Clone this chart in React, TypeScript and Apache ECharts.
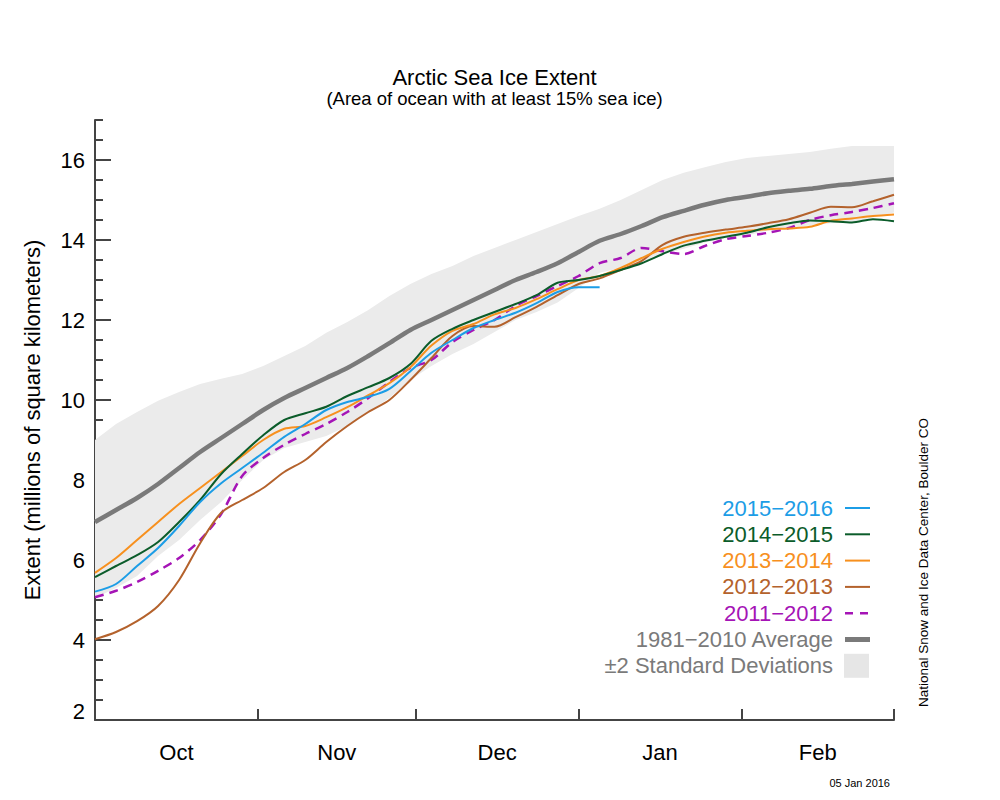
import React, { useEffect, useRef } from "react";
import * as echarts from "echarts";

// Day index: 0 = Oct 1, 152 = Mar 1 (2016 leap year)
const DAYS = [0, 4, 8, 12, 16, 20, 24, 28, 32, 36, 40, 44, 48, 52, 56, 60, 64, 68, 72, 76, 80, 84, 88, 92, 96, 100, 104, 108, 112, 116, 120, 124, 128, 132, 136, 140, 144, 148, 152];

const AVG_1981_2010 = [6.95, 7.25, 7.55, 7.9, 8.3, 8.7, 9.05, 9.4, 9.75, 10.05, 10.3, 10.55, 10.8, 11.1, 11.42, 11.75, 12.0, 12.25, 12.5, 12.75, 13.0, 13.2, 13.42, 13.7, 13.98, 14.15, 14.35, 14.57, 14.73, 14.88, 15.0, 15.08, 15.17, 15.23, 15.28, 15.35, 15.4, 15.46, 15.52];
const SD_UPPER = [9.0, 9.4, 9.7, 9.98, 10.2, 10.4, 10.53, 10.65, 10.85, 11.1, 11.35, 11.68, 11.95, 12.25, 12.6, 12.9, 13.15, 13.35, 13.6, 13.8, 14.0, 14.2, 14.4, 14.6, 14.78, 15.0, 15.25, 15.5, 15.68, 15.82, 15.95, 16.05, 16.1, 16.15, 16.2, 16.28, 16.35, 16.35, 16.35];
const SD_LOWER = [5.05, 5.3, 5.6, 6.1, 6.5, 7.0, 7.45, 8.0, 8.5, 8.8, 8.95, 9.1, 9.35, 9.7, 10.05, 10.5, 10.85, 11.15, 11.4, 11.7, 12.0, 12.2, 12.44, 12.8, 13.18, 13.3, 13.45, 13.64, 13.78, 13.94, 14.05, 14.11, 14.24, 14.31, 14.36, 14.42, 14.45, 14.57, 14.69];

const Y2015_2016 = [5.21, 5.4, 5.85, 6.3, 6.85, 7.45, 7.92, 8.3, 8.68, 9.08, 9.4, 9.75, 9.95, 10.08, 10.28, 10.72, 11.18, 11.5, 11.8, 12.0, 12.18, 12.42, 12.7, 12.82, 12.82];
const Y2014_2015 = [5.57, 5.85, 6.12, 6.45, 6.95, 7.5, 8.15, 8.65, 9.12, 9.5, 9.67, 9.83, 10.1, 10.32, 10.55, 10.9, 11.48, 11.78, 12.0, 12.2, 12.4, 12.62, 12.93, 13.0, 13.1, 13.25, 13.42, 13.65, 13.86, 13.98, 14.08, 14.18, 14.32, 14.42, 14.49, 14.47, 14.44, 14.52, 14.47];
const Y2013_2014 = [5.68, 6.05, 6.5, 6.95, 7.4, 7.8, 8.2, 8.6, 9.0, 9.28, 9.35, 9.57, 9.82, 10.12, 10.42, 10.82, 11.36, 11.73, 11.9, 12.14, 12.3, 12.52, 12.77, 13.0, 13.1, 13.3, 13.55, 13.78, 13.95, 14.09, 14.18, 14.23, 14.27, 14.29, 14.33, 14.48, 14.54, 14.6, 14.64];
const Y2012_2013 = [4.02, 4.2, 4.47, 4.85, 5.5, 6.42, 7.18, 7.5, 7.8, 8.2, 8.5, 8.95, 9.35, 9.7, 10.0, 10.5, 11.05, 11.6, 11.85, 11.83, 12.07, 12.33, 12.62, 12.9, 13.04, 13.25, 13.48, 13.88, 14.08, 14.18, 14.26, 14.33, 14.42, 14.52, 14.68, 14.83, 14.82, 14.97, 15.13];
const Y2011_2012 = [5.07, 5.23, 5.45, 5.73, 6.05, 6.5, 7.15, 8.1, 8.55, 8.88, 9.15, 9.4, 9.7, 10.05, 10.45, 10.8, 11.0, 11.45, 11.75, 12.0, 12.35, 12.6, 12.85, 13.1, 13.42, 13.55, 13.8, 13.72, 13.65, 13.85, 14.02, 14.1, 14.18, 14.3, 14.5, 14.62, 14.7, 14.8, 14.92];

const MONTHS = ["Oct", "Nov", "Dec", "Jan", "Feb"];
const MONTH_STARTS = [0, 31, 61, 92, 123, 152];
const Y_MAJOR_TICKS = [2, 4, 6, 8, 10, 12, 14, 16];

const LEGEND_LABELS = ["2015\u22122016", "2014\u22122015", "2013\u22122014", "2012\u22122013", "2011\u22122012", "1981\u22122010 Average", "\u00b12 Standard Deviations"];
const COLORS = {
  y2015: "#1c9de6",
  y2014: "#0b5c2a",
  y2013: "#f7901e",
  y2012: "#b4622c",
  y2011: "#a514b6",
  avg: "#7a7a7a",
  band: "#ebebeb",
};

const FONT = "'Liberation Sans', Arial, Helvetica, sans-serif";

const pairs = (vals: number[]) => vals.map((v, i) => [DAYS[i], v]);

export default function App() {
  const ref = useRef<HTMLDivElement>(null);

  useEffect(() => {
    if (!ref.current) return;
    const chart = echarts.init(ref.current, null, { renderer: "svg" });

    const monthMids = MONTHS.map((_, i) => (MONTH_STARTS[i] + MONTH_STARTS[i + 1]) / 2);
    const monthFor = (v: number) => {
      for (let i = 0; i < MONTHS.length; i++) {
        if (v >= MONTH_STARTS[i] && v < MONTH_STARTS[i + 1]) return MONTHS[i];
      }
      return "";
    };

    const axisColor = "#444";

    const lineSeries = (name: string, vals: number[], color: string, width: number, dashed = false) => ({
      name,
      type: "line",
      data: pairs(vals),
      showSymbol: false,
      symbol: "none",
      smooth: 0.3,
      lineStyle: { color, width, type: dashed ? [9, 6] : "solid" },
      emphasis: { disabled: true },
    });

    const legendColors = [COLORS.y2015, COLORS.y2014, COLORS.y2013, COLORS.y2012, COLORS.y2011, COLORS.avg, COLORS.avg];
    const legendTop = 508;
    const legendStep = 26.3;
    const legendGraphics: any[] = [];
    LEGEND_LABELS.forEach((label, i) => {
      const y = legendTop + i * legendStep;
      legendGraphics.push({
        type: "text",
        x: 833,
        y,
        style: {
          text: label,
          fill: legendColors[i],
          font: `22px ${FONT}`,
          textAlign: "right",
          textVerticalAlign: "middle",
        },
      });
      if (i < 5) {
        legendGraphics.push({
          type: "line",
          shape: { x1: 845, y1: y, x2: 870, y2: y },
          style: { stroke: legendColors[i], lineWidth: i === 4 ? 2.5 : 2, lineDash: i === 4 ? [8, 7] : null },
        });
      } else if (i === 5) {
        legendGraphics.push({
          type: "line",
          shape: { x1: 845, y1: y, x2: 870, y2: y },
          style: { stroke: COLORS.avg, lineWidth: 5 },
        });
      } else {
        legendGraphics.push({
          type: "rect",
          shape: { x: 844, y: y - 12, width: 25, height: 24 },
          style: { fill: "#e6e6e6" },
        });
      }
    });

    chart.setOption({
      animation: false,
      backgroundColor: "#ffffff",
      textStyle: { fontFamily: FONT },
      grid: { left: 95, right: 106, top: 120, bottom: 80, containLabel: false, outerBoundsMode: "none" },
      xAxis: {
        type: "value",
        min: 0,
        max: 152,
        axisLine: { show: true, lineStyle: { color: axisColor, width: 2 } },
        axisTick: {
          show: true,
          inside: true,
          length: 11,
          customValues: MONTH_STARTS.slice(1),
          lineStyle: { color: axisColor, width: 2 },
        },
        axisLabel: {
          customValues: monthMids,
          formatter: (v: number) => monthFor(v),
          fontSize: 22,
          color: "#000",
          fontFamily: FONT,
          margin: 21,
        },
        splitLine: { show: false },
      },
      yAxis: [
        {
          type: "value",
          min: 2,
          max: 17,
          interval: 0.5,
          position: "left",
          axisLine: { show: true, lineStyle: { color: axisColor, width: 2 } },
          axisTick: { show: true, inside: true, length: 8, lineStyle: { color: axisColor, width: 2 } },
          axisLabel: { show: false },
          splitLine: { show: false },
          name: "Extent (millions of square kilometers)",
          nameLocation: "middle",
          nameRotate: 90,
          nameGap: 52,
          nameTextStyle: { fontSize: 22, color: "#000", fontFamily: FONT },
        },
        {
          type: "value",
          min: 2,
          max: 17,
          position: "left",
          axisLine: { show: false },
          axisTick: {
            show: true,
            inside: true,
            length: 16,
            customValues: Y_MAJOR_TICKS,
            lineStyle: { color: axisColor, width: 2 },
          },
          axisLabel: {
            customValues: Y_MAJOR_TICKS,
            formatter: (v: number) => (v === 2 ? "{low|2}" : String(v)),
            rich: { low: { fontSize: 22, color: "#000", fontFamily: FONT, padding: [0, 0, 18, 0] } },
            fontSize: 22,
            color: "#000",
            fontFamily: FONT,
            margin: 10,
          },
          splitLine: { show: false },
        },
      ],
      series: [
        {
          name: LEGEND_LABELS[6],
          type: "custom",
          data: [[0, 2]],
          silent: true,
          z: 1,
          renderItem: (_params: any, api: any) => {
            const pts: number[][] = [];
            DAYS.forEach((d, i) => pts.push(api.coord([d, SD_UPPER[i]])));
            for (let i = DAYS.length - 1; i >= 0; i--) pts.push(api.coord([DAYS[i], SD_LOWER[i]]));
            return {
              type: "polygon",
              shape: { points: pts },
              style: { fill: COLORS.band, stroke: null },
            };
          },
        },
        { ...lineSeries(LEGEND_LABELS[5], AVG_1981_2010, COLORS.avg, 4.5), z: 2 },
        { ...lineSeries(LEGEND_LABELS[4], Y2011_2012, COLORS.y2011, 2.5, true), z: 3 },
        { ...lineSeries(LEGEND_LABELS[3], Y2012_2013, COLORS.y2012, 2), z: 3 },
        { ...lineSeries(LEGEND_LABELS[2], Y2013_2014, COLORS.y2013, 2), z: 3 },
        { ...lineSeries(LEGEND_LABELS[1], Y2014_2015, COLORS.y2014, 2), z: 3 },
        { ...lineSeries(LEGEND_LABELS[0], Y2015_2016, COLORS.y2015, 2), z: 3 },
      ],
      graphic: [
        {
          type: "text",
          x: 494.5,
          y: 77,
          style: { text: "Arctic Sea Ice Extent", font: `22px ${FONT}`, fill: "#000", textAlign: "center", textVerticalAlign: "middle" },
        },
        {
          type: "text",
          x: 494.5,
          y: 98.5,
          style: { text: "(Area of ocean with at least 15% sea ice)", font: `18.5px ${FONT}`, fill: "#000", textAlign: "center", textVerticalAlign: "middle" },
        },
        {
          type: "text",
          x: 923,
          y: 707,
          rotation: Math.PI / 2,
          style: { text: "National Snow and Ice Data Center, Boulder CO", font: `13.5px ${FONT}`, fill: "#000", textAlign: "left", textVerticalAlign: "middle" },
        },
        {
          type: "text",
          x: 890,
          y: 783,
          style: { text: "05 Jan 2016", font: `11px ${FONT}`, fill: "#000", textAlign: "right", textVerticalAlign: "middle" },
        },
        ...legendGraphics,
      ],
    });

    return () => chart.dispose();
  }, []);

  return (
    <div
      ref={ref}
      style={{ position: "fixed", left: 0, top: 0, width: 1000, height: 800, background: "#fff" }}
    />
  );
}
